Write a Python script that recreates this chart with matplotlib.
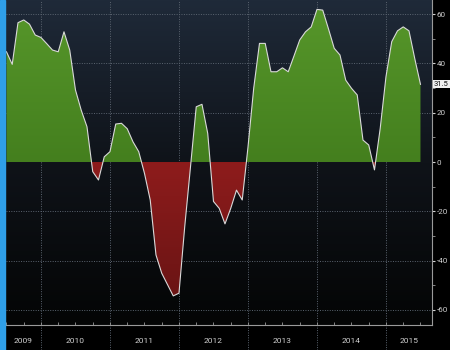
import numpy as np
import pandas as pd
import matplotlib
matplotlib.use("Agg")
import matplotlib.pyplot as plt
from matplotlib.colors import LinearSegmentedColormap
from matplotlib.path import Path
from matplotlib.patches import Rectangle
import matplotlib.transforms as mtransforms

plt.rcParams['font.family'] = ['Roboto', 'DejaVu Sans']
plt.rcParams['axes.unicode_minus'] = False

# monthly readings, Jul 2009 .. Jul 2015
months = pd.date_range('2009-07-01', periods=73, freq='MS')
values = [
    44.7, 39.6, 56.5, 57.6, 55.9, 51.5, 50.5, 48.0, 45.4, 44.7, 52.8, 45.4,
    29.2, 21.0, 14.3, -3.9, -7.3, 2.1, 4.2, 15.4, 15.7, 13.5, 8.2, 4.2,
    -4.6, -15.4, -37.7, -45.1, -49.7, -54.3, -53.2, -26.2, -2.0, 22.4, 23.4, 11.6,
    -16.0, -18.8, -25.1, -18.8, -11.4, -15.4, 6.0, 30.0, 48.1, 48.1, 36.6, 36.6,
    38.2, 36.6, 43.0, 49.5, 52.8, 54.8, 61.9, 61.6, 54.0, 46.1, 43.4, 33.2,
    29.9, 27.2, 8.9, 6.9, -3.2, 13.7, 34.6, 48.8, 53.2, 54.8, 53.2, 42.0,
    31.5,
]
years = [2009, 2010, 2011, 2012, 2013, 2014, 2015]
y_ticks = [-60, -40, -20, 0, 20, 40, 60]

x = np.array([d.year + (d.month - 1) / 12 for d in months])
v = np.array(values)
x_lo, x_hi = 2009.493, 2015.667
y_lo, y_hi = -66.1, 65.7

fig = plt.figure(figsize=(4.5, 3.5), dpi=100, facecolor='black')
ax = fig.add_axes([6 / 450, 25 / 350, 426 / 450, 325 / 350])
ax.set_xlim(x_lo, x_hi)
ax.set_ylim(y_lo, y_hi)

# background: navy at the top fading to black
bg = LinearSegmentedColormap.from_list('bg', ['#040505', '#0f1319', '#1f2a39'])
ax.imshow(np.linspace(0, 1, 256).reshape(-1, 1), cmap=bg, origin='lower',
          extent=[0, 1, 0, 1], transform=ax.transAxes, aspect='auto', zorder=0)

# grid
for t in y_ticks:
    if t != 0:
        ax.axhline(t, color='#5b6470', lw=0.7, ls=(0, (1, 1.5)), zorder=1)
sep = mtransforms.blended_transform_factory(ax.transData, ax.transAxes)
for yr in years[1:]:
    ax.plot([yr, yr], [-25 / 325, 1], transform=sep, color='#5b6470', lw=0.7,
            ls=(0, (1, 1.5)), clip_on=False, zorder=1)


def gradient_fill(coll, c_top, c_bot, lo, hi):
    paths = coll.get_paths()
    coll.remove()
    if not paths:
        return
    cm = LinearSegmentedColormap.from_list('g', [c_bot, c_top])
    im = ax.imshow(np.linspace(0, 1, 256).reshape(-1, 1), cmap=cm, origin='lower',
                   extent=[x_lo, x_hi, lo, hi], aspect='auto', zorder=2)
    im.set_clip_path(Path.make_compound_path(*paths), ax.transData)


pos = ax.fill_between(x, v, 0, where=v >= 0, interpolate=True, lw=0)
neg = ax.fill_between(x, v, 0, where=v <= 0, interpolate=True, lw=0)
gradient_fill(pos, '#56962a', '#447f1e', 0, 62)
gradient_fill(neg, '#8e1c1c', '#6a1414', -55, 0)
ax.set_xlim(x_lo, x_hi)
ax.set_ylim(y_lo, y_hi)

ax.plot(x, v, color='#d9d9d9', lw=0.8, zorder=3)

# axes styling
for s in ['top', 'left']:
    ax.spines[s].set_visible(False)
ax.spines['bottom'].set_color('#9a9a9a')
ax.spines['right'].set_color('#9a9a9a')
ax.spines['bottom'].set_linewidth(0.8)
ax.spines['right'].set_linewidth(0.8)

ax.yaxis.tick_right()
ax.set_yticks(y_ticks)
ax.set_yticks(range(-50, 60, 20), minor=True)
ax.tick_params(axis='y', which='major', colors='#d0d0d0', labelsize=5.8,
               length=2.5, width=0.8, pad=0.8)
ax.tick_params(axis='y', which='minor', colors='#9a9a9a', length=2, width=0.6)

ax.set_xticks(np.arange(2009.5, 2015.75, 0.25), minor=True)
ax.set_xticks([])
ax.tick_params(axis='x', which='minor', direction='in', colors='#9a9a9a',
               length=2, width=0.6)
for yr in years:
    a, b = max(yr, x_lo), min(yr + 1, x_hi)
    ax.text((a + b) / 2, -16 / 325, str(yr), transform=sep, ha='center',
            va='center', color='#d0d0d0', fontsize=6)

# last value tag
ax.annotate(f'{values[-1]}', xy=(1, values[-1]),
            xycoords=('axes fraction', 'data'), xytext=(1.5, 0),
            textcoords='offset points', va='center', ha='left', fontsize=5.5,
            color='#111111',
            bbox=dict(boxstyle='square,pad=0.12', fc='#f2f2f2', ec='none'),
            annotation_clip=False)

# blue strip on the left edge
fig.patches.append(Rectangle((0, 0), 5 / 450, 1, transform=fig.transFigure,
                             color='#2f9fe8', zorder=5))

fig.savefig('out.png', dpi=100, facecolor='black')
